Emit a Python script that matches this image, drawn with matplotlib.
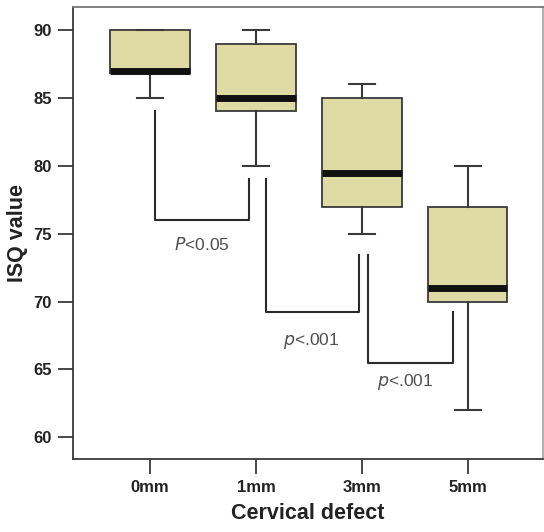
import matplotlib
matplotlib.use('Agg')
import matplotlib.pyplot as plt

plt.rcParams['font.family'] = ['Liberation Sans', 'DejaVu Sans']
plt.rcParams['mathtext.fontset'] = 'custom'
plt.rcParams['mathtext.it'] = 'Liberation Sans Narrow:italic'
plt.rcParams['mathtext.rm'] = 'Liberation Sans Narrow'

# box statistics
categories = ['0mm', '1mm', '3mm', '5mm']
whisker_low = [85, 80, 75, 62]
q1 = [86.8, 84, 77, 70]
median = [87, 85, 79.5, 71]
q3 = [90, 89, 85, 77]
whisker_high = [90, 90, 86, 80]

# significance brackets: (x_left, y_left_top, x_right, y_right_top, y_bottom)
brackets = [
    (1.05, 84.0, 1.93, 79.0, 76.0),
    (2.09, 79.0, 2.97, 73.4, 69.2),
    (3.06, 73.4, 3.86, 69.2, 65.5),
]
bracket_labels = ['<0.05', '<.001', '<.001']
bracket_prefix = ['P', 'p', 'p']
label_pos = [(1.49, 74.2), (2.52, 67.1), (3.41, 64.05)]

stats = []
for i, c in enumerate(categories):
    stats.append({'label': c, 'whislo': whisker_low[i], 'q1': q1[i], 'med': median[i],
                  'q3': q3[i], 'whishi': whisker_high[i], 'fliers': []})

fig = plt.figure(figsize=(5.44, 5.32), dpi=100)
ax = fig.add_axes([0.134, 0.137, 0.864, 0.85])

edge = '#3a3a3a'
ax.bxp(stats, positions=[1, 2, 3, 4], widths=0.75, patch_artist=True, showfliers=False,
       boxprops=dict(facecolor='#dedca4', edgecolor=edge, linewidth=1.3),
       medianprops=dict(color='#111111', linewidth=5, solid_capstyle='butt'),
       whiskerprops=dict(color=edge, linewidth=1.5),
       capprops=dict(color=edge, linewidth=1.5),
       capwidths=0.25)

for (xl, yl, xr, yr, yb) in brackets:
    ax.plot([xl, xl, xr, xr], [yl, yb, yb, yr], color='#2a2a2a', linewidth=1.5)

for (x, y), pre, txt in zip(label_pos, bracket_prefix, bracket_labels):
    ax.text(x, y, '$\\it{' + pre + '}$' + txt, ha='center', va='center',
            fontsize=12.5, color='#505050',
            family=['Liberation Sans Narrow', 'Liberation Sans', 'DejaVu Sans'])

ax.set_xlim(0.27, 4.71)
ax.set_ylim(58.4, 91.7)
ax.set_yticks([60, 65, 70, 75, 80, 85, 90])
ax.tick_params(axis='both', direction='out', length=11, width=1.3, color=edge,
               labelsize=12, labelcolor='#222222', pad=4)
for lbl in ax.get_xticklabels() + ax.get_yticklabels():
    lbl.set_fontweight('bold')
for s in ax.spines.values():
    s.set_color(edge)
    s.set_linewidth(1.3)
ax.spines['right'].set_color('#aaaaaa')
ax.spines['top'].set_color('#777777')

ax.set_xlabel('Cervical defect', fontsize=15.5, fontweight='bold', color='#222222', labelpad=6)
ax.set_ylabel('ISQ value', fontsize=15.5, fontweight='bold', color='#222222', labelpad=4)

fig.savefig('out.png', dpi=100)
